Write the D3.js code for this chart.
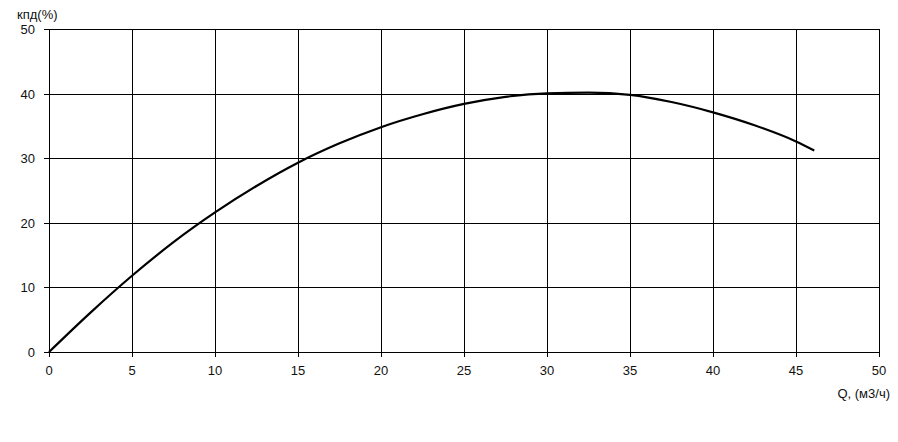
<!DOCTYPE html>
<html>
<head>
<meta charset="utf-8">
<script src="https://cdn.jsdelivr.net/npm/d3@7"></script>
<style>
  html, body { margin: 0; padding: 0; background: #fff; }
  svg text { font-family: "Liberation Sans", Arial, sans-serif; font-size: 13px; fill: #111; }
</style>
</head>
<body>
<svg id="chart" width="898" height="442"></svg>
<script>
const flowQ = [0, 2.5, 5, 7.5, 10, 12.5, 15, 17.5, 20, 22.5, 25, 27.5, 30, 32.5, 35, 37.5, 40, 42.5, 45, 46.1];
const efficiency = [0, 6.1, 11.8, 17.0, 21.6, 25.7, 29.3, 32.3, 34.8, 36.8, 38.4, 39.5, 40.05, 40.15, 39.8, 38.7, 37.1, 35.1, 32.6, 31.2];
const xTicks = [0, 5, 10, 15, 20, 25, 30, 35, 40, 45, 50];
const yTicks = [0, 10, 20, 30, 40, 50];
const yTitle = "кпд(%)";
const xTitle = "Q, (м3/ч)";

const svg = d3.select("#chart");
const x = d3.scaleLinear().domain([0, 50]).range([49, 879]);
const y = d3.scaleLinear().domain([0, 50]).range([352, 29]);

// grid
const g = svg.append("g").attr("shape-rendering", "crispEdges");
g.selectAll("line.v").data(xTicks).enter().append("line")
  .attr("x1", d => Math.round(x(d)) + 0.5).attr("x2", d => Math.round(x(d)) + 0.5)
  .attr("y1", y(50)).attr("y2", y(0) + 5)
  .attr("stroke", "#000").attr("stroke-width", 1);
g.selectAll("line.h").data(yTicks).enter().append("line")
  .attr("y1", d => Math.round(y(d)) + 0.5).attr("y2", d => Math.round(y(d)) + 0.5)
  .attr("x1", x(0) - 5).attr("x2", x(50))
  .attr("stroke", "#000").attr("stroke-width", 1);

// tick labels
svg.selectAll("text.xt").data(xTicks).enter().append("text")
  .attr("x", d => x(d)).attr("y", y(0) + 23)
  .attr("text-anchor", "middle").text(d => d);
svg.selectAll("text.yt").data(yTicks).enter().append("text")
  .attr("x", 35).attr("y", d => y(d) + 5)
  .attr("text-anchor", "end").text(d => d);

// titles
svg.append("text").attr("x", 17).attr("y", 19).text(yTitle);
svg.append("text").attr("x", 890).attr("y", 398).attr("text-anchor", "end").text(xTitle);

// curve
const pts = flowQ.map((q, i) => [q, efficiency[i]]);
const line = d3.line().x(d => x(d[0])).y(d => y(d[1])).curve(d3.curveMonotoneX);
svg.append("path").datum(pts).attr("d", line)
  .attr("fill", "none").attr("stroke", "#000").attr("stroke-width", 2.2);
</script>
</body>
</html>
